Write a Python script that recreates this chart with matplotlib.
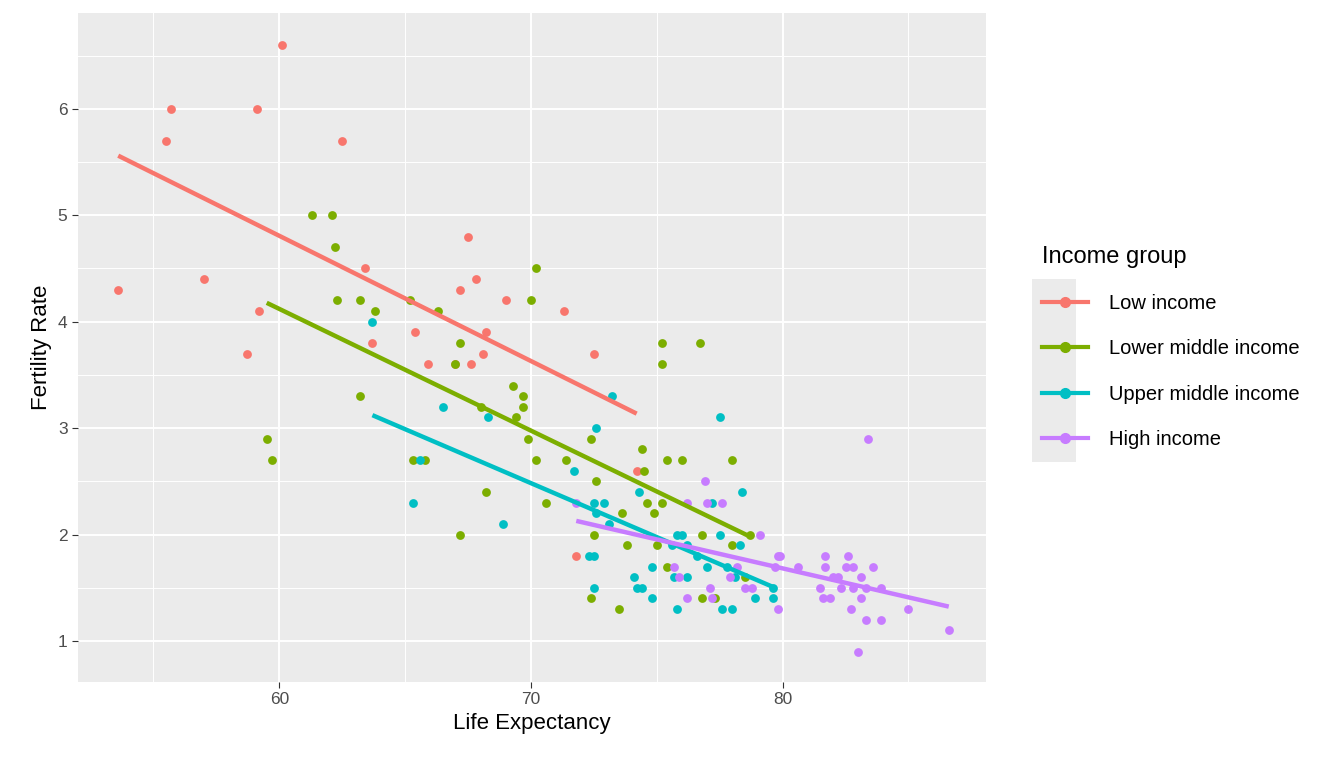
import matplotlib
matplotlib.use("Agg")
import matplotlib.pyplot as plt
from matplotlib.lines import Line2D
from matplotlib.patches import Rectangle
import numpy as np

plt.rcParams['font.family'] = ['Liberation Sans', 'DejaVu Sans']

groups = ["Low income", "Lower middle income", "Upper middle income", "High income"]
colors = ["#F8766D", "#7CAE00", "#00BFC4", "#C77CFF"]

low_x = [53.6, 55.5, 55.7, 57.0, 58.7, 59.1, 59.2, 60.1, 62.5, 63.4, 63.7, 65.4, 65.9, 67.0,
         67.2, 67.5, 67.6, 67.8, 68.2, 68.1, 69.0, 71.3, 71.8, 72.5, 74.2]
low_y = [4.3, 5.7, 6.0, 4.4, 3.7, 6.0, 4.1, 6.6, 5.7, 4.5, 3.8, 3.9, 3.6, 3.6,
         4.3, 4.8, 3.6, 4.4, 3.9, 3.7, 4.2, 4.1, 1.8, 3.7, 2.6]

lmid_x = [59.5, 59.7, 61.3, 62.1, 62.2, 62.3, 63.2, 63.2, 63.8, 65.2, 65.3, 65.8, 66.3, 67.0,
          67.2, 67.2, 68.0, 68.2, 69.3, 69.4, 69.7, 69.7, 69.9, 70.0, 70.2, 70.2, 70.6, 71.4,
          72.4, 72.4, 72.5, 72.6, 73.5, 73.8, 73.6, 74.4, 74.5, 74.6, 74.9, 75.0, 75.2, 75.2,
          75.2, 75.4, 75.4, 76.0, 76.7, 76.8, 76.8, 77.3, 78.0, 78.0, 78.5, 78.7]
lmid_y = [2.9, 2.7, 5.0, 5.0, 4.7, 4.2, 3.3, 4.2, 4.1, 4.2, 2.7, 2.7, 4.1, 3.6,
          3.8, 2.0, 3.2, 2.4, 3.4, 3.1, 3.3, 3.2, 2.9, 4.2, 4.5, 2.7, 2.3, 2.7,
          1.4, 2.9, 2.0, 2.5, 1.3, 1.9, 2.2, 2.8, 2.6, 2.3, 2.2, 1.9, 3.6, 3.8,
          2.3, 2.7, 1.7, 2.7, 3.8, 2.0, 1.4, 1.4, 2.7, 1.9, 1.6, 2.0]

umid_x = [63.7, 65.3, 65.6, 66.5, 68.3, 68.9, 71.7, 72.3, 72.5, 72.5, 72.5, 72.6, 72.6, 72.9,
          73.1, 73.2, 74.1, 74.2, 74.3, 74.4, 74.8, 74.8, 75.6, 75.7, 75.8, 75.8, 76.0, 76.2,
          76.2, 76.6, 77.0, 77.2, 77.5, 77.5, 77.6, 77.8, 78.0, 78.1, 78.3, 78.4, 78.9, 79.6, 79.6]
umid_y = [4.0, 2.3, 2.7, 3.2, 3.1, 2.1, 2.6, 1.8, 1.8, 1.5, 2.3, 2.2, 3.0, 2.3,
          2.1, 3.3, 1.6, 1.5, 2.4, 1.5, 1.4, 1.7, 1.9, 1.6, 2.0, 1.3, 2.0, 1.6,
          1.9, 1.8, 1.7, 2.3, 3.1, 2.0, 1.3, 1.7, 1.3, 1.6, 1.9, 2.4, 1.4, 1.5, 1.4]

high_x = [71.8, 75.7, 75.9, 76.2, 76.2, 76.9, 77.0, 77.1, 77.2, 77.6, 77.9, 78.2, 78.5, 78.8,
          79.1, 79.7, 79.8, 79.8, 79.9, 80.6, 81.5, 81.6, 81.7, 81.7, 81.9, 82.0, 82.2, 82.3,
          82.5, 82.6, 82.7, 82.8, 82.8, 83.0, 83.1, 83.1, 83.3, 83.4, 83.3, 83.6, 83.9, 83.9,
          85.0, 86.6]
high_y = [2.3, 1.7, 1.6, 2.3, 1.4, 2.5, 2.3, 1.5, 1.4, 2.3, 1.6, 1.7, 1.5, 1.5,
          2.0, 1.7, 1.8, 1.3, 1.8, 1.7, 1.5, 1.4, 1.8, 1.7, 1.4, 1.6, 1.6, 1.5,
          1.7, 1.8, 1.3, 1.7, 1.5, 0.9, 1.6, 1.4, 1.5, 2.9, 1.2, 1.7, 1.5, 1.2,
          1.3, 1.1]

data = [(low_x, low_y), (lmid_x, lmid_y), (umid_x, umid_y), (high_x, high_y)]

fig = plt.figure(figsize=(13.44, 7.68), dpi=100)
ax = fig.add_axes([0.058, 0.112, 0.676, 0.871])
ax.set_facecolor("#EBEBEB")

for (xs, ys), c in zip(data, colors):
    xs = np.array(xs)
    ys = np.array(ys)
    ax.scatter(xs, ys, s=40, color=c, zorder=3, linewidths=0)
    m, b = np.polyfit(xs, ys, 1)
    lx = np.array([xs.min(), xs.max()])
    ax.plot(lx, m * lx + b, color=c, lw=3.2, zorder=4, solid_capstyle="butt")

ax.set_xlim(52.0, 88.1)
ax.set_ylim(0.615, 6.9)
ax.set_xticks([60, 70, 80])
ax.set_yticks([1, 2, 3, 4, 5, 6])
ax.set_xticks([55, 65, 75, 85], minor=True)
ax.set_yticks([1.5, 2.5, 3.5, 4.5, 5.5, 6.5], minor=True)
ax.grid(which="major", color="white", lw=1.4)
ax.grid(which="minor", color="white", lw=0.7)
ax.set_axisbelow(True)
for s in ax.spines.values():
    s.set_visible(False)
ax.tick_params(which="major", length=4, color="#333333", labelsize=12.5, labelcolor="#4D4D4D")
ax.tick_params(which="minor", length=0)
ax.set_xlabel("Life Expectancy", fontsize=16)
ax.set_ylabel("Fertility Rate", fontsize=16)

fig.patches.append(Rectangle((1032 / 1344, 1 - 462 / 768), 44 / 1344, 183 / 768,
                             transform=fig.transFigure, facecolor="#EBEBEB", edgecolor="none"))
handles = [Line2D([], [], color=c, lw=3, marker="o", markersize=7) for c in colors]
leg = fig.legend(handles, groups, title="Income group", loc="upper left",
                 bbox_to_anchor=(1024 / 1344, 1 - 228 / 768), frameon=False,
                 fontsize=14.5, title_fontsize=17, handlelength=2.3, labelspacing=1.3,
                 handletextpad=1.0)
leg._legend_box.align = "left"

fig.savefig("out.png", dpi=100)
